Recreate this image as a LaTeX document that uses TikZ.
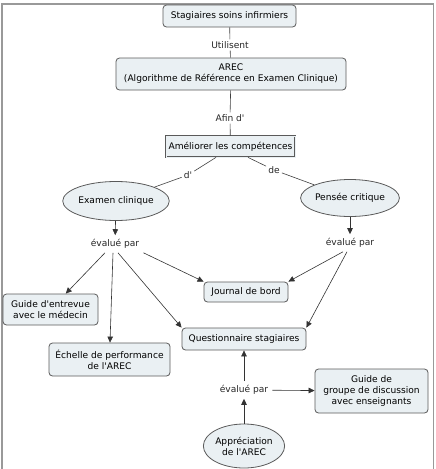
\documentclass[tikz,border=0pt]{standalone}
\usepackage{fontspec}
\setmainfont{DejaVu Sans}[Ligatures=TeXOff]
\usetikzlibrary{shapes.geometric,arrows.meta}
\definecolor{boxfill}{HTML}{EAF0F3}
\definecolor{edge}{HTML}{5A5A5A}
\newcommand{\fs}{\fontsize{9.1}{11}\selectfont}
\begin{document}
\begin{tikzpicture}[x=1pt,y=-1pt,
  box/.style={draw=edge, fill=boxfill, rounded corners=3.5pt, align=center, font=\fs, inner sep=0pt, line width=0.8pt},
  rbox/.style={draw=edge, fill=boxfill, align=center, font=\fs, inner sep=0pt, line width=0.8pt},
  ell/.style={draw=edge, fill=boxfill, ellipse, align=center, font=\fs, inner sep=0pt, line width=0.8pt},
  lbl/.style={font=\fs, inner sep=2pt, text=black!85},
  ln/.style={draw=black!75, line width=0.6pt},
  arr/.style={draw=black!80, line width=0.6pt, -{Triangle[length=6pt,width=5.5pt]}}]
\useasboundingbox (0,0) rectangle (436,469);
\draw[gray!80, line width=1.5pt] (2,475) -- (2,4) -- (433.5,4) -- (433.5,475);
% nodes
\node[box, minimum width=133, minimum height=22] (s) at (229.5,16) {Stagiaires soins infirmiers};
\node[lbl] (u) at (230,45) {Utilisent};
\node[box, minimum width=230, minimum height=32] (arec) at (231,74) {AREC\\(Algorithme de Référence en Examen Clinique)};
\node[lbl] (afin) at (230,118) {Afin d'};
\node[rbox, minimum width=129, minimum height=21, double=boxfill, double distance=0.6pt] (am) at (230.5,146.5) {Améliorer les compétences};
\node[lbl] (dd) at (188,175) {d'};
\node[lbl] (de) at (274,170) {de};
\node[ell, minimum width=91, minimum height=39] (ex) at (116,201) {Examen clinique};
\node[ell, minimum width=86, minimum height=37] (pc) at (350,198) {Pensée critique};
\node[lbl, inner sep=4pt] (ev1) at (115,244) {évalué par};
\node[lbl, inner sep=4pt] (ev2) at (350,243) {évalué par};
\node[box, minimum width=84, minimum height=20] (jb) at (246,292) {Journal de bord};
\node[box, minimum width=95, minimum height=31] (ge) at (50.5,309.5) {Guide d'entrevue\\avec le médecin};
\node[box, minimum width=124, minimum height=22] (qs) at (244,339) {Questionnaire stagiaires};
\node[box, minimum width=121, minimum height=33] (ech) at (109.5,359.5) {Échelle de performance\\de l'AREC};
\node[lbl, inner sep=4pt] (ev3) at (244,390) {évalué par};
\node[box, minimum width=113, minimum height=44] (gg) at (371.5,391) {Guide de\\groupe de discussion\\avec enseignants};
\node[ell, minimum width=78, minimum height=44] (ap) at (244,446) {Appréciation\\de l'AREC};
% lines
\draw[ln] (s) -- (u);
\draw[ln] (u) -- (arec);
\draw[ln] (arec) -- (afin);
\draw[ln] (afin) -- (am);
\draw[ln] (am.south -| 216,0) -- (dd);
\draw[ln] (dd) -- (ex);
\draw[ln] (am.south -| 248,0) -- (de);
\draw[ln] (de) -- (pc);
% arrows
\draw[arr] (ex) -- (ev1);
\draw[arr] (pc) -- (ev2);
\draw[arr] (ev1.south -| 105,0) -- (ge);
\draw[arr] (ev1.south -| 113,0) -- (ech.north -| 110,0);
\draw[arr] (ev1.south -| 118,0) -- (qs.north west);
\draw[arr] (ev1.south east) -- (jb.north west);
\draw[arr] (ev2.south -| 343,0) -- (jb.north east);
\draw[arr] (ev2.south -| 347,0) -- (qs.north east);
\draw[arr] (ap) -- (ev3);
\draw[arr] (ev3) -- (qs);
\draw[arr] (ev3) -- (gg);
\end{tikzpicture}
\end{document}
